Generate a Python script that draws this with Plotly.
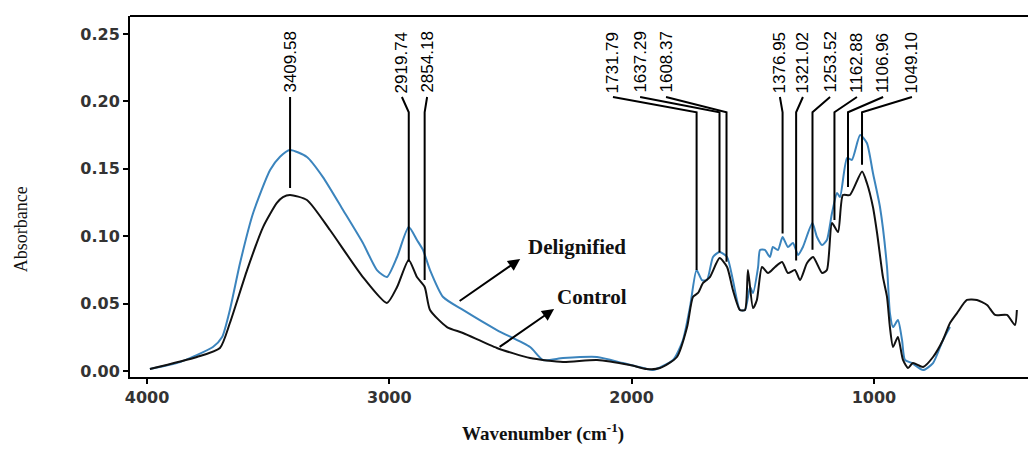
import plotly.graph_objects as go

# FTIR spectra: wavenumber (cm^-1) and absorbance
delig_wn = [3988, 3864, 3728, 3690, 3658, 3616, 3562, 3492, 3451, 3410, 3340, 3274, 3191,
            3109, 3051, 3010, 2968, 2920, 2886, 2861, 2832, 2778, 2696, 2556, 2419,
            2366, 2283, 2143, 2036, 1937, 1912, 1829, 1788, 1759, 1732, 1710, 1689,
            1664, 1637, 1606, 1582, 1553, 1532, 1511, 1499, 1478, 1470, 1450, 1429,
            1417, 1396, 1377, 1355, 1334, 1313, 1293, 1254, 1235, 1214, 1194, 1173,
            1152, 1140, 1111, 1091, 1057, 1029, 1004, 975, 946, 934, 921, 901,
            884, 872, 843, 797, 756, 715, 686]
delig_abs = [0.0015, 0.0067, 0.0178, 0.0252, 0.0453, 0.0801, 0.1172, 0.1491, 0.1590, 0.1640, 0.1588, 0.1439, 0.1195,
             0.0950, 0.0749, 0.0697, 0.0846, 0.1068, 0.0972, 0.0898, 0.0749, 0.0549, 0.0453, 0.0304, 0.0178,
             0.0082, 0.0096, 0.0104, 0.0059, 0.0015, 0.0007, 0.0082, 0.0230, 0.0475, 0.0749, 0.0675, 0.0675,
             0.0846, 0.0883, 0.0846, 0.0675, 0.0453, 0.0453, 0.0623, 0.0579, 0.0772, 0.0898, 0.0898, 0.0846,
             0.0920, 0.0898, 0.0994, 0.0920, 0.0950, 0.0861, 0.0920, 0.1098, 0.0994, 0.0935, 0.0972, 0.1172,
             0.1321, 0.1291, 0.1580, 0.1566, 0.1751, 0.1692, 0.1469, 0.1217, 0.0772, 0.0430, 0.0326, 0.0378,
             0.0230, 0.0082, 0.0059, 0.0007, 0.0059, 0.0230, 0.0326]

control_wn = [3988, 3794, 3699, 3658, 3587, 3521, 3464, 3439, 3410, 3340, 3245, 3109, 3010,
              2968, 2920, 2886, 2854, 2832, 2762, 2696, 2556, 2419, 2283, 2143, 2007,
              1937, 1883, 1813, 1771, 1747, 1726, 1705, 1677, 1637, 1606, 1582, 1553,
              1532, 1520, 1499, 1483, 1462, 1437, 1408, 1379, 1355, 1326, 1305, 1276,
              1251, 1214, 1194, 1173, 1148, 1128, 1099, 1049, 1029, 1004, 987, 963,
              946, 934, 921, 901, 880, 859, 839, 797, 756, 715, 686, 657,
              616, 575, 533, 500, 451, 418, 410]
control_abs = [0.0015, 0.0104, 0.0171, 0.0356, 0.0749, 0.1068, 0.1247, 0.1290, 0.1306, 0.1269, 0.1046, 0.0697, 0.0505,
               0.0623, 0.0824, 0.0697, 0.0623, 0.0453, 0.0326, 0.0282, 0.0171, 0.0096, 0.0067, 0.0082, 0.0045,
               0.0015, 0.0022, 0.0104, 0.0326, 0.0549, 0.0579, 0.0653, 0.0697, 0.0838, 0.0772, 0.0601, 0.0453,
               0.0453, 0.0749, 0.0467, 0.0527, 0.0772, 0.0727, 0.0772, 0.0809, 0.0727, 0.0749, 0.0675, 0.0801,
               0.0846, 0.0727, 0.0749, 0.1098, 0.1031, 0.1306, 0.1306, 0.1480, 0.1395, 0.1217, 0.1024, 0.0700,
               0.0550, 0.0326, 0.0178, 0.0252, 0.0082, 0.0022, 0.0059, 0.0030, 0.0104, 0.0230, 0.0356, 0.0430,
               0.0527, 0.0527, 0.0490, 0.0416, 0.0416, 0.0341, 0.0453]

# Assigned band positions (cm^-1)
peaks = [3409.58, 2919.74, 2854.18, 1731.79, 1637.29, 1608.37,
         1376.95, 1321.02, 1253.52, 1162.88, 1106.96, 1049.10]
# Absorbance where each band marker stops
marker_end = [0.1358, 0.081, 0.0675, 0.075, 0.088, 0.081,
              0.102, 0.082, 0.090, 0.112, 0.1365, 0.153]
# Horizontal placement of the rotated band labels (cm^-1)
label_x = [3409.58, 2948, 2844, 2077, 1965, 1858, 1388, 1293, 1181, 1070, 962, 843]

x_ticks = [4000, 3000, 2000, 1000]
y_ticks = [0.00, 0.05, 0.10, 0.15, 0.20, 0.25]

assert len(delig_wn) == len(delig_abs)
assert len(control_wn) == len(control_abs)

LABEL_BASE = 0.2048
LEAD_TOP = 0.2033
LEAD_ELBOW = 0.192

fig = go.Figure()

fig.add_trace(go.Scatter(x=delig_wn, y=delig_abs, mode="lines",
                         line=dict(color="#3b84bd", width=2, shape="spline", smoothing=0.6),
                         name="Delignified"))
fig.add_trace(go.Scatter(x=control_wn, y=control_abs, mode="lines",
                         line=dict(color="#111111", width=2, shape="spline", smoothing=0.6),
                         name="Control"))

# band marker lines: from the label down to the band
lx, ly = [], []
for p, e, t in zip(peaks, marker_end, label_x):
    lx += [t, p, p, None]
    ly += [LEAD_TOP, LEAD_ELBOW, e, None]
fig.add_trace(go.Scatter(x=lx, y=ly, mode="lines",
                         line=dict(color="black", width=2), hoverinfo="skip"))

annotations = []
for p, t in zip(peaks, label_x):
    annotations.append(dict(x=t, y=LABEL_BASE, xref="x", yref="y",
                            text=f"{p:.2f}", textangle=-90, showarrow=False,
                            xanchor="center", yanchor="bottom",
                            font=dict(family="Liberation Sans Narrow, Arial Narrow, Arial",
                                      size=17, color="#000")))

# series call-outs
annotations.append(dict(x=2460, y=0.0831, ax=2716, ay=0.0512, xref="x", yref="y",
                        axref="x", ayref="y", text="", showarrow=True,
                        arrowhead=2, arrowsize=1.2, arrowwidth=2, arrowcolor="black"))
annotations.append(dict(x=2320, y=0.0460, ax=2551, ay=0.0171, xref="x", yref="y",
                        axref="x", ayref="y", text="", showarrow=True,
                        arrowhead=2, arrowsize=1.2, arrowwidth=2, arrowcolor="black"))
annotations.append(dict(x=2225, y=0.092, xref="x", yref="y", text="<b>Delignified</b>",
                        showarrow=False, font=dict(family="Liberation Serif", size=21, color="#111")))
annotations.append(dict(x=2163, y=0.0549, xref="x", yref="y", text="<b>Control</b>",
                        showarrow=False, font=dict(family="Liberation Serif", size=21, color="#111")))

# axis titles
annotations.append(dict(x=-0.121, y=0.41, xref="paper", yref="paper", text="Absorbance",
                        textangle=-90, showarrow=False, xanchor="center", yanchor="middle",
                        font=dict(family="Liberation Serif", size=18, color="#111")))
annotations.append(dict(x=0.46, y=-0.153, xref="paper", yref="paper",
                        text="<b>Wavenumber (cm<sup>-1</sup>)</b>", showarrow=False,
                        xanchor="center", yanchor="middle",
                        font=dict(family="Liberation Serif", size=19, color="#111")))

tickfont = dict(family="DejaVu Sans", size=16, color="#333", weight="bold")

fig.update_layout(
    width=1028, height=466,
    margin=dict(l=130, r=0, t=16, b=89),
    plot_bgcolor="white", paper_bgcolor="white",
    showlegend=False,
    annotations=annotations,
    shapes=[dict(type="line", xref="paper", yref="paper", x0=0, x1=1, y0=1, y1=1,
                 line=dict(color="black", width=2))],
    xaxis=dict(range=[4070.2, 364.1], tickvals=x_ticks, ticktext=[str(v) for v in x_ticks],
               ticks="outside", ticklen=5, tickwidth=2, tickcolor="black",
               showline=True, linewidth=2, linecolor="black",
               showgrid=False, zeroline=False, tickfont=tickfont),
    yaxis=dict(range=[-0.00445, 0.2634], tickvals=y_ticks, tickformat=".2f",
               ticks="outside", ticklen=5, tickwidth=2, tickcolor="black",
               showline=True, linewidth=2, linecolor="black",
               showgrid=False, zeroline=False, tickfont=tickfont),
)

fig.write_html("out.html")
